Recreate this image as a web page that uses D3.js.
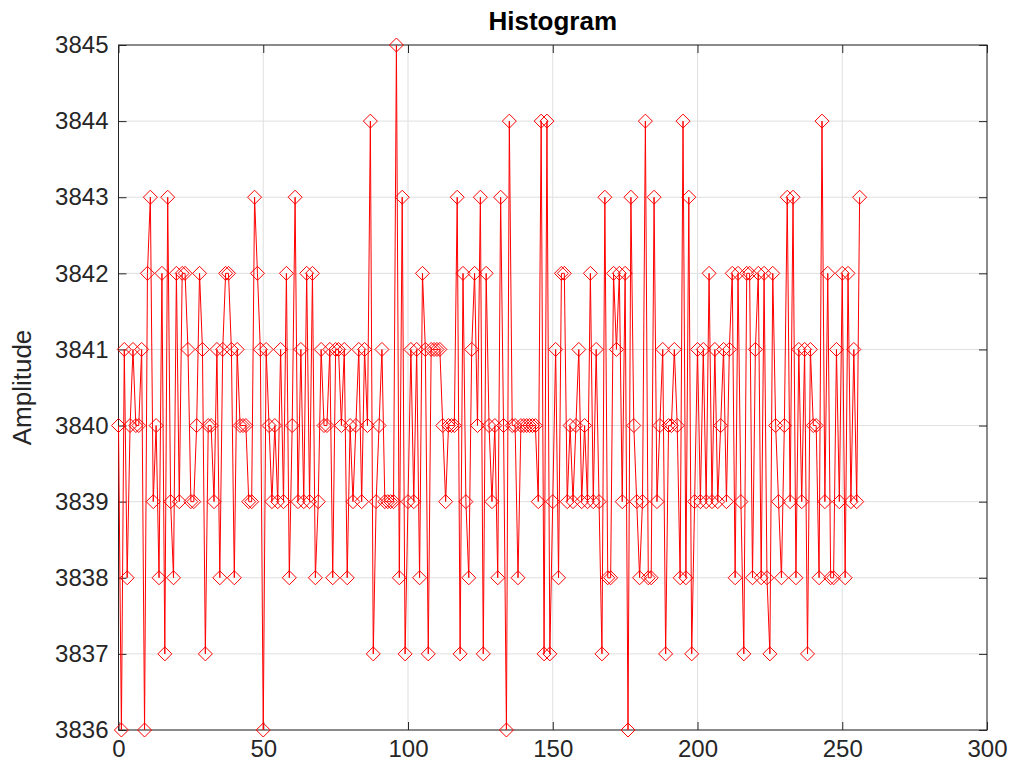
<!DOCTYPE html>
<html><head><meta charset="utf-8">
<script src="https://cdn.jsdelivr.net/npm/d3@7"></script>
<style>body{margin:0;background:#fff} svg{display:block}</style>
</head><body><svg id="c" width="1010" height="774"></svg>
<script>
const amplitude = [
3840,3836,3841,3838,3840,3841,3840,3840,3841,3836,
3842,3843,3839,3840,3838,3842,3837,3843,3839,3838,
3842,3839,3842,3842,3841,3839,3839,3840,3842,3841,
3837,3840,3840,3839,3841,3838,3841,3842,3842,3841,
3838,3841,3840,3840,3840,3839,3839,3843,3842,3841,
3836,3841,3840,3839,3840,3839,3841,3839,3842,3838,
3840,3843,3839,3841,3839,3842,3839,3842,3838,3839,
3841,3840,3840,3841,3838,3841,3841,3840,3841,3838,
3840,3839,3840,3841,3839,3841,3840,3844,3837,3839,
3840,3841,3839,3839,3839,3839,3845,3838,3843,3837,
3839,3841,3839,3841,3838,3842,3841,3837,3841,3841,
3841,3841,3840,3839,3840,3840,3840,3843,3837,3842,
3839,3838,3841,3842,3840,3843,3837,3842,3840,3839,
3840,3838,3843,3840,3836,3844,3840,3840,3838,3840,
3840,3840,3840,3840,3840,3839,3844,3837,3844,3837,
3839,3841,3838,3842,3842,3839,3840,3839,3840,3841,
3839,3840,3839,3842,3839,3841,3839,3837,3843,3838,
3838,3842,3841,3842,3839,3842,3836,3843,3840,3839,
3838,3839,3844,3838,3838,3843,3839,3840,3841,3837,
3840,3840,3841,3840,3838,3844,3838,3843,3837,3839,
3841,3839,3841,3839,3842,3839,3841,3839,3840,3841,
3839,3841,3842,3838,3842,3839,3837,3842,3842,3838,
3841,3842,3838,3842,3838,3837,3842,3840,3839,3838,
3840,3843,3839,3843,3838,3841,3839,3841,3837,3841,
3840,3840,3838,3844,3839,3842,3838,3838,3841,3839,
3842,3838,3842,3839,3841,3839,3843
];
const sampleIndex = amplitude.map((d, i) => i);
const xTickValues = [0, 50, 100, 150, 200, 250, 300];
const yTickValues = [3836, 3837, 3838, 3839, 3840, 3841, 3842, 3843, 3844, 3845];
const titleText = "Histogram";
const yLabelText = "Amplitude";

const svg = d3.select("#c");
const L = 118.5, R = 987, T = 45, B = 730;
const x = d3.scaleLinear().domain([0, 300]).range([L, R]);
const y = d3.scaleLinear().domain([3836, 3845]).range([B, T]);
const axisColor = "#262626";
const font = "'Liberation Sans', Arial, Helvetica, sans-serif";

// grid
const g = svg.append("g");
g.selectAll("line.gx").data(xTickValues).join("line")
  .attr("x1", d => x(d)).attr("x2", d => x(d)).attr("y1", T).attr("y2", B)
  .attr("stroke", "#dfdfdf").attr("stroke-width", 1);
g.selectAll("line.gy").data(yTickValues).join("line")
  .attr("x1", L).attr("x2", R).attr("y1", d => y(d)).attr("y2", d => y(d))
  .attr("stroke", "#dfdfdf").attr("stroke-width", 1);

// axes
function style(sel, showText) {
  sel.select(".domain").remove();
  sel.selectAll(".tick line").attr("stroke", axisColor);
  sel.selectAll(".tick text").attr("fill", axisColor)
    .style("font-family", font).style("font-size", "24px");
  if (!showText) sel.selectAll(".tick text").remove();
}
const ax = svg.append("g").attr("transform", `translate(0,${B})`)
  .call(d3.axisBottom(x).tickValues(xTickValues).tickFormat(d3.format("d")).tickSizeInner(-8).tickSizeOuter(0).tickPadding(10));
style(ax, true);
const axT = svg.append("g").attr("transform", `translate(0,${T})`)
  .call(d3.axisTop(x).tickValues(xTickValues).tickSizeInner(-8).tickSizeOuter(0));
style(axT, false);
const ay = svg.append("g").attr("transform", `translate(${L},0)`)
  .call(d3.axisLeft(y).tickValues(yTickValues).tickFormat(d3.format("d")).tickSizeInner(-8).tickSizeOuter(0).tickPadding(10));
style(ay, true);
const ayR = svg.append("g").attr("transform", `translate(${R},0)`)
  .call(d3.axisRight(y).tickValues(yTickValues).tickSizeInner(-8).tickSizeOuter(0));
style(ayR, false);

svg.append("rect").attr("x", L).attr("y", T).attr("width", R - L).attr("height", B - T)
  .attr("fill", "none").attr("stroke", axisColor).attr("stroke-width", 1);

// data line
const pts = sampleIndex.map((i) => [i, amplitude[i]]);
svg.append("path").datum(pts)
  .attr("fill", "none").attr("stroke", "#ff0000").attr("stroke-width", 1)
  .attr("d", d3.line().x(d => x(d[0])).y(d => y(d[1])));

// diamonds
const r = 7;
svg.append("g").selectAll("path").data(pts).join("path")
  .attr("d", d => {
    const cx = x(d[0]), cy = y(d[1]);
    return `M${cx},${cy - r}L${cx + r},${cy}L${cx},${cy + r}L${cx - r},${cy}Z`;
  })
  .attr("fill", "none").attr("stroke", "#ff0000").attr("stroke-width", 1);

svg.append("text").attr("x", (L + R) / 2).attr("y", 30)
  .attr("text-anchor", "middle").attr("fill", "#000")
  .style("font-family", font).style("font-size", "26px").style("font-weight", "bold")
  .text(titleText);

svg.append("text").attr("transform", `translate(31,${(T + B) / 2}) rotate(-90)`)
  .attr("text-anchor", "middle").attr("fill", axisColor)
  .style("font-family", font).style("font-size", "26px")
  .text(yLabelText);
</script>
</body></html>
